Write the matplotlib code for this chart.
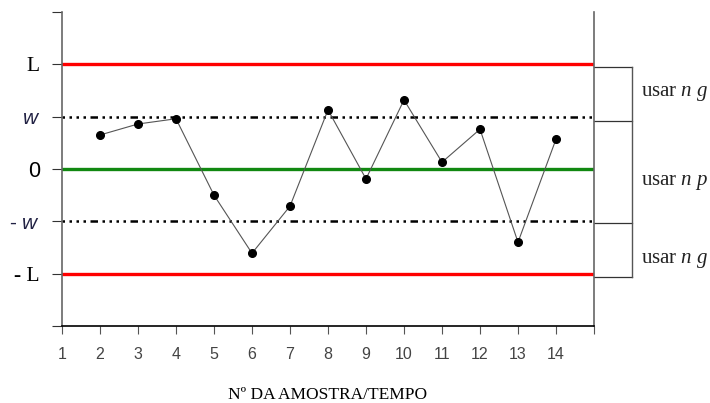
import matplotlib
matplotlib.use("Agg")
import matplotlib.pyplot as plt

# Data
samples = [2, 3, 4, 5, 6, 7, 8, 9, 10, 11, 12, 13, 14]
values = [0.65, 0.86, 0.96, -0.50, -1.61, -0.71, 1.13, -0.19, 1.32, 0.13, 0.76, -1.40, 0.57]
L_level = 2.0
w_level = 1.0
xtick_labels = ["1", "2", "3", "4", "5", "6", "7", "8", "9", "10", "11", "12", "13", "14", ""]
ytick_vals = [-3, -2, -1, 0, 1, 2, 3]
ytick_labels = ["", "- L", r"- $\mathsf{w}$", "0", r"$\mathsf{w}$", "L", ""]
right_labels = [r"usar $n\ g$", r"usar $n\ p$", r"usar $n\ g$"]
right_label_y = [1.45, -0.25, -1.75]
bracket_y = [1.95, 0.92, -1.03, -2.07]

plt.rcParams['mathtext.fontset'] = 'custom'
plt.rcParams['mathtext.it'] = 'Liberation Serif:italic'
plt.rcParams['mathtext.rm'] = 'Liberation Serif'
plt.rcParams['mathtext.sf'] = 'Liberation Sans:italic'

fig = plt.figure(figsize=(7.10, 4.03), dpi=100)
ax = fig.add_axes([62/710, 1-326/403, 532/710, 314/403])

ax.set_xlim(1, 15)
ax.set_ylim(-3, 3)

ax.axhline(L_level, color='#ff0000', lw=2.4, zorder=2)
ax.axhline(-L_level, color='#ff0000', lw=2.4, zorder=2)
ax.axhline(0, color='#118811', lw=2.4, zorder=2)
dash = (0, (1.0, 1.8, 1.0, 1.8, 1.0, 1.8, 1.0, 1.8, 3.0, 1.8))
ax.axhline(w_level, color='black', lw=1.8, linestyle=dash, zorder=2)
ax.axhline(-w_level, color='black', lw=1.8, linestyle=dash, zorder=2)

ax.plot(samples, values, color='#555555', lw=0.8, marker='o', markersize=5.5,
        markerfacecolor='black', markeredgecolor='black', zorder=3)

ax.spines['top'].set_visible(False)
ax.spines['left'].set_color('#666666')
ax.spines['right'].set_color('#666666')
ax.spines['bottom'].set_color('black')
ax.spines['left'].set_linewidth(1.2)
ax.spines['right'].set_linewidth(1.2)
ax.spines['bottom'].set_linewidth(1.2)

ax.set_xticks(range(1, 16))
ax.set_xticklabels(xtick_labels, fontsize=11.5, color='#444444', family='Liberation Sans')
ax.tick_params(axis='x', length=6, color='#555555', pad=9)
ax.set_yticks(ytick_vals)
ax.set_yticklabels(ytick_labels)
ax.tick_params(axis='y', length=7, color='#333333', pad=9)
for lab in ax.get_yticklabels():
    t = lab.get_text()
    if 'L' in t:
        lab.set_family('Liberation Serif')
        lab.set_fontsize(15.5)
    elif t == '0':
        lab.set_family('Liberation Sans')
        lab.set_fontsize(15.5)
    else:
        lab.set_family('Liberation Sans')
        lab.set_fontsize(15)
        lab.set_color('#222244')

ax.set_xlabel("Nº DA AMOSTRA/TEMPO", family='Liberation Serif', fontsize=12.5, labelpad=18)

# right-side bracket
tr = ax.get_yaxis_transform()
xb = (632 - 62) / 532
for yb in bracket_y:
    ax.plot([1.0, xb], [yb, yb], transform=tr, color='#333333', lw=0.9, clip_on=False)
ax.plot([xb, xb], [bracket_y[0], bracket_y[-1]], transform=tr, color='#555555', lw=1.0, clip_on=False)
for lab, yl in zip(right_labels, right_label_y):
    ax.text((641 - 62) / 532, yl, lab, transform=tr, family='Liberation Serif', fontsize=15,
            va='center', ha='left', color='#222222')

fig.savefig("out.png", dpi=100)
